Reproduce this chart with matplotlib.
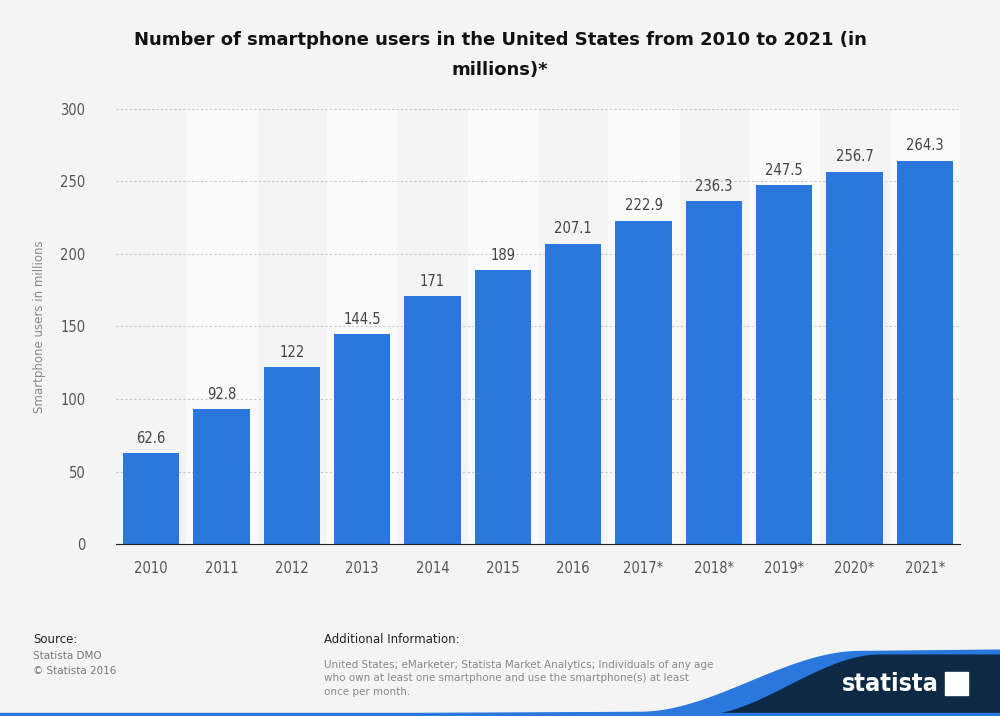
import numpy as np
import matplotlib.pyplot as plt
from matplotlib.patches import Polygon

years = ['2010', '2011', '2012', '2013', '2014', '2015', '2016',
         '2017*', '2018*', '2019*', '2020*', '2021*']
users = [62.6, 92.8, 122, 144.5, 171, 189, 207.1, 222.9, 236.3, 247.5, 256.7, 264.3]
labels = ['62.6', '92.8', '122', '144.5', '171', '189', '207.1',
          '222.9', '236.3', '247.5', '256.7', '264.3']

plt.rcParams['font.family'] = 'DejaVu Sans'
fig = plt.figure(figsize=(10, 7.16), dpi=100, facecolor='#f4f4f4')
ax = fig.add_axes([0.116, 0.240, 0.844, 0.608])
ax.set_facecolor('#f4f4f4')

x = np.arange(len(years))
for i in x:
    if i % 2 == 1:
        ax.axvspan(i - 0.5, i + 0.5, color='#fafafa', zorder=0)
ax.set_yticks(range(0, 301, 50))
ax.grid(axis='y', color='#c8c8c8', linestyle=(0, (2, 2)), linewidth=0.8, zorder=1)
ax.bar(x, users, width=0.8, color='#2a77de', zorder=2)
for xi, v, t in zip(x, users, labels):
    ax.text(xi, v + 5, t, ha='center', va='bottom', fontsize=10.5,
            color='#444444', fontstretch='condensed')

ax.set_xlim(-0.5, len(years) - 0.5)
ax.set_ylim(0, 300)
ax.set_xticks(x)
ax.set_xticklabels(years)
ax.tick_params(axis='both', length=0, labelsize=10.5, colors='#555555', pad=12)
ax.tick_params(axis='y', pad=22)
for lab in ax.get_xticklabels() + ax.get_yticklabels():
    lab.set_fontstretch('condensed')
for s in ['top', 'right', 'left']:
    ax.spines[s].set_visible(False)
ax.spines['bottom'].set_color('#222222')
ax.set_ylabel('Smartphone users in millions', fontsize=8.5, color='#888888', labelpad=10)

fig.text(0.5, 0.923, 'Number of smartphone users in the United States from 2010 to 2021 (in\nmillions)*',
         ha='center', va='center', fontsize=13, fontweight='bold', color='#111111',
         linespacing=1.9)

fig.text(0.033, 0.102, 'Source:', fontsize=8.5, color='#222222')
fig.text(0.033, 0.080, 'Statista DMO', fontsize=7.5, color='#777777')
fig.text(0.033, 0.058, '\u00a9 Statista 2016', fontsize=7.5, color='#777777')
fig.text(0.324, 0.102, 'Additional Information:', fontsize=8.5, color='#222222')
fig.text(0.324, 0.030, 'United States; eMarketer; Statista Market Analytics; Individuals of any age\n'
         'who own at least one smartphone and use the smartphone(s) at least\nonce per month.',
         fontsize=7.5, color='#888888', linespacing=1.4)

# footer wave and logo
t = np.linspace(0, 1, 60)
wx = 0.64 + 0.22 * t
wy = 0.005 + 0.085 * (3 * t**2 - 2 * t**3)
blue = np.column_stack([np.r_[0.0, wx, 1.0, 1.0, 0.0], np.r_[0.0, wy, 0.092, 0.0, 0.0]])
fig.patches.append(Polygon(blue, closed=True, transform=fig.transFigure, color='#2a77de'))
nx = 0.70 + 0.18 * t
ny = 0.085 * (3 * t**2 - 2 * t**3)
navy = np.column_stack([np.r_[nx, 1.0, 1.0], np.r_[ny, 0.085, 0.0]])
fig.patches.append(Polygon(navy, closed=True, transform=fig.transFigure, color='#0d2a45'))
fig.patches.append(Polygon([[0, 0], [1.0, 0], [1.0, 0.004], [0, 0.004]], closed=True,
                           transform=fig.transFigure, color='#2a77de'))
fig.text(0.890, 0.045, 'statista', fontsize=18, fontweight='bold', color='white',
         ha='center', va='center', fontstretch='condensed')
fig.patches.append(Polygon([[0.945, 0.030], [0.968, 0.030], [0.968, 0.062], [0.945, 0.062]],
                           closed=True, transform=fig.transFigure, color='white'))

fig.savefig('out.png', dpi=100, facecolor=fig.get_facecolor())
